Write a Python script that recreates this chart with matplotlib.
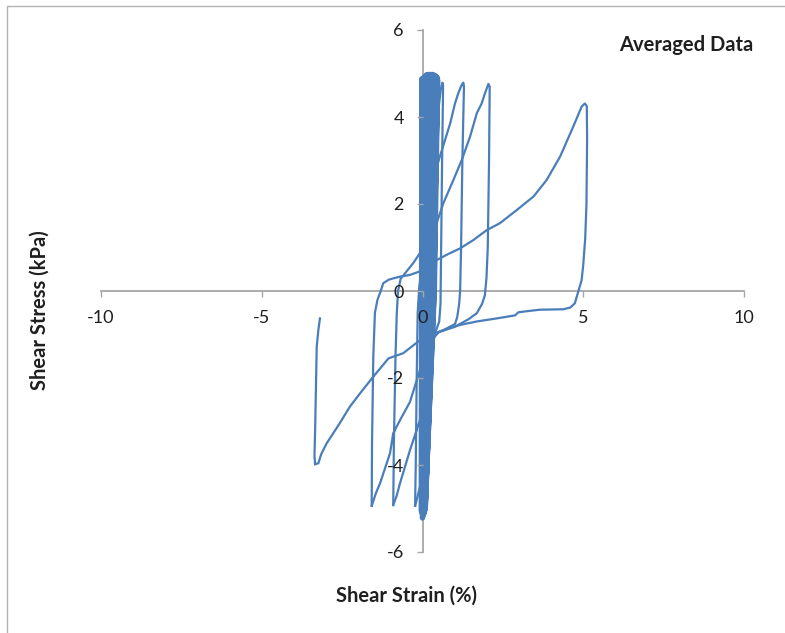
import matplotlib
matplotlib.use("Agg")
import matplotlib.pyplot as plt
from matplotlib.patches import Rectangle

plt.rcParams["font.family"] = ["Lato", "DejaVu Sans"]
plt.rcParams["axes.unicode_minus"] = False

# dense band of small early cycles (strain %, stress kPa)
band_strain = [-0.04, -0.03, -0.02, 0.00, -0.02, 0.02, 0.06, 0.05, 0.00, 0.06, 0.12, 0.10,
               0.01, 0.10, 0.18, 0.15, 0.02, 0.13, 0.24, 0.20, 0.03, 0.17, 0.30, 0.25,
               0.04, 0.21, 0.35, 0.29, 0.05, 0.25, 0.40, 0.33, 0.07, 0.29, 0.44, 0.36,
               0.09, 0.33, 0.47, 0.37, 0.08, 0.35, 0.46, 0.34, 0.02, 0.20, 0.30, 0.22, 0.06]
band_stress = [-5.05, 0.0, 4.88, 0.0, -5.10, 0.0, 4.93, 0.0, -5.22, 0.0, 4.97, 0.0,
               -5.10, 0.0, 4.98, 0.0, -5.15, 0.0, 4.98, 0.0, -5.05, 0.0, 4.98, 0.0,
               -5.10, 0.0, 4.97, 0.0, -5.00, 0.0, 4.95, 0.0, -5.05, 0.0, 4.92, 0.0,
               -4.95, 0.0, 4.86, 0.0, -5.00, 0.0, 4.90, 0.0, -5.15, 0.0, 4.97, 0.0, -5.10]

# cycle 1: leaves band, peak ~0.6 %, back to -0.2 %
c1_strain = [0.06, 0.30, 0.42, 0.50, 0.57, 0.62, 0.64, 0.61, 0.58, 0.56, 0.52, 0.40,
             0.25, 0.10, -0.05, -0.23]
c1_stress = [-5.10, 0.0, 3.0, 4.2, 4.65, 4.79, 4.7, 3.0, 1.0, -0.3, -0.7, -0.95,
             -1.5, -3.0, -4.42, -4.94]

# cycle 2: up to 1.3 %, down to -0.9 %
c2_strain = [-0.23, -0.21, -0.18, -0.15, -0.10, 0.05, 0.25, 0.45, 0.54, 0.70, 0.86, 1.01,
             1.11, 1.22, 1.27, 1.29, 1.24, 1.20, 1.17, 1.14, 1.08, 1.01, 0.65, 0.30,
             0.10, -0.08, -0.39, -0.70, -0.80, -0.91]
c2_stress = [-4.94, -4.0, -2.0, -0.5, 0.1, 0.9, 2.0, 2.86, 3.09, 3.47, 3.85, 4.31,
             4.54, 4.74, 4.79, 4.7, 3.0, 1.0, 0.0, -0.3, -0.6, -0.76, -0.9, -1.0,
             -2.0, -2.97, -3.66, -4.42, -4.7, -4.92]

# cycle 3: up to 2.1 %, down to -1.6 %
c3_strain = [-0.91, -0.89, -0.84, -0.80, -0.76, -0.68, -0.54, -0.29, -0.08, 0.20, 0.44, 0.65,
             0.96, 1.22, 1.48, 1.69, 1.84, 1.94, 2.05, 2.09, 2.07, 2.03, 1.99, 1.94,
             1.85, 1.69, 1.43, 1.01, 0.50, 0.20, -0.08, -0.39, -0.70, -0.91, -1.01, -1.32,
             -1.45, -1.58]
c3_stress = [-4.92, -3.5, -1.5, -0.5, 0.0, 0.28, 0.41, 0.64, 0.87, 1.15, 1.56, 2.02,
             2.55, 3.01, 3.55, 4.09, 4.31, 4.54, 4.76, 4.7, 3.0, 1.0, 0.3, -0.1,
             -0.3, -0.51, -0.65, -0.82, -0.95, -1.2, -1.82, -2.55, -2.97, -3.27, -3.73, -4.42,
             -4.65, -4.94]

# cycle 4: up to 5.1 %, down to -3.3 %
c4_strain = [-1.58, -1.57, -1.53, -1.48, -1.40, -1.30, -1.22, -1.05, -0.91, -0.70, -0.39, 0.03,
             0.44, 0.80, 1.17, 1.58, 2.00, 2.41, 2.93, 3.45, 3.86, 4.28, 4.69, 4.95,
             5.05, 5.11, 5.12, 5.10, 5.06, 5.00, 4.95, 4.85, 4.74, 4.60, 4.38, 3.65,
             3.30, 2.98, 2.88, 2.31, 1.69, 1.17, 0.65, 0.30, -0.13, -0.60, -0.91, -1.06,
             -1.53, -1.94, -2.26, -2.60, -2.98, -3.15, -3.24, -3.34]
c4_stress = [-4.94, -3.5, -1.5, -0.5, -0.2, 0.0, 0.18, 0.26, 0.29, 0.33, 0.37, 0.48,
             0.71, 0.85, 0.98, 1.17, 1.40, 1.56, 1.86, 2.17, 2.55, 3.09, 3.78, 4.24,
             4.31, 4.25, 3.5, 2.0, 1.2, 0.6, 0.25, 0.0, -0.28, -0.38, -0.42, -0.43,
             -0.46, -0.49, -0.56, -0.63, -0.70, -0.78, -0.90, -1.0, -1.16, -1.43, -1.51, -1.55,
             -1.97, -2.35, -2.66, -3.07, -3.50, -3.75, -3.96, -3.98]

# final unloading
c5_strain = [-3.34, -3.36, -3.34, -3.29, -3.24, -3.19]
c5_stress = [-3.98, -3.8, -3.2, -1.28, -0.9, -0.63]

x_ticks = [-10, -5, 0, 5, 10]
y_ticks = [-6, -4, -2, 0, 2, 4, 6]

blue = "#4a7ebb"
grey = "#a6a6a6"
text_col = "#1f1f1f"

fig = plt.figure(figsize=(7.85, 6.33), dpi=100)
# outer chart frame
fig.patches.append(Rectangle((7 / 785, -0.01), 1.0, 1.0 - 6 / 633 + 0.01,
                             transform=fig.transFigure, fill=False,
                             edgecolor="#b3b3b3", linewidth=1.0))

ax = fig.add_axes([101 / 785, 1 - 552 / 633, (744 - 101) / 785, (552 - 30) / 633])

ax.plot(band_strain, band_stress, color=blue, lw=3.8, solid_joinstyle="round",
        solid_capstyle="round", zorder=2)
for xs, ys in [(c1_strain, c1_stress), (c2_strain, c2_stress), (c3_strain, c3_stress),
               (c4_strain, c4_stress), (c5_strain, c5_stress)]:
    ax.plot(xs, ys, color=blue, lw=1.6, solid_joinstyle="round", zorder=2)

ax.set_xlim(-10, 10)
ax.set_ylim(-6, 6)
ax.set_xticks(x_ticks)
ax.set_yticks(y_ticks)

for side in ["top", "right"]:
    ax.spines[side].set_visible(False)
for side in ["left", "bottom"]:
    ax.spines[side].set_position("zero")
    ax.spines[side].set_color(grey)
    ax.spines[side].set_linewidth(1.3)
    ax.spines[side].set_zorder(1)
ax.xaxis.set_zorder(3)
ax.yaxis.set_zorder(3)

ax.tick_params(axis="both", direction="out", length=4.5, width=1.0, color=grey,
               labelsize=13, labelcolor=text_col)
ax.tick_params(axis="x", pad=9)
ax.tick_params(axis="y", pad=9)
ax.patch.set_alpha(0)

fig.text(406 / 785, 1 - 596 / 633, "Shear Strain (%)", ha="center", va="center",
         fontsize=14.5, fontweight="bold", color=text_col)
fig.text(40 / 785, 1 - 310 / 633, "Shear Stress (kPa)", ha="center", va="center",
         rotation=90, fontsize=14.5, fontweight="bold", color=text_col)
fig.text(686 / 785, 1 - 45 / 633, "Averaged Data", ha="center", va="center",
         fontsize=14.5, fontweight="bold", color=text_col)

plt.savefig("out.png", dpi=100)
